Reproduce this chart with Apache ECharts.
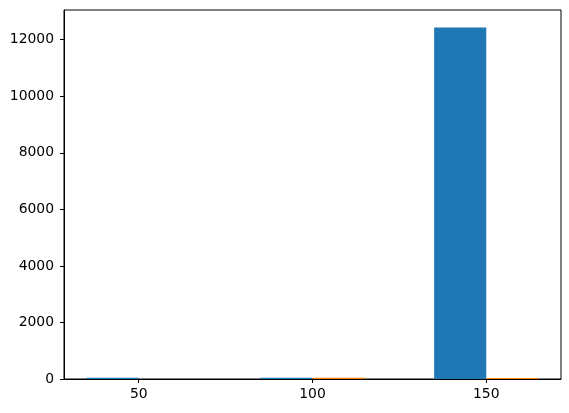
<!DOCTYPE html>
<html>
<head>
<meta charset="utf-8">
<script src="https://cdn.jsdelivr.net/npm/echarts@6/dist/echarts.min.js"></script>
<style>
  html, body { margin: 0; padding: 0; background: #fff; }
  #main { width: 569px; height: 413px; }
</style>
</head>
<body>
<div id="main"></div>
<script>
var groups = [50, 100, 150];
var blueValues = [40, 45, 12430];
var orangeValues = [0, 40, 35];
var xTicks = [50, 100, 150];
var yTicks = [0, 2000, 4000, 6000, 8000, 10000, 12000];

var BAR_SPAN = 15;

var chartDom = document.getElementById('main');
var myChart = echarts.init(chartDom);

// blue sits left of each group, orange right of it
var blueData = groups.map(function (g, i) {
  return [g - BAR_SPAN, g, blueValues[i]];
});
var orangeData = groups.map(function (g, i) {
  return [g, g + BAR_SPAN, orangeValues[i]];
});

function renderBar(params, api) {
  var p0 = api.coord([api.value(0), 0]);
  var p1 = api.coord([api.value(1), api.value(2)]);
  return {
    type: 'rect',
    shape: {
      x: p0[0],
      y: p1[1],
      width: p1[0] - p0[0],
      height: p0[1] - p1[1]
    },
    style: api.style()
  };
}

var axisText = {
  color: '#000',
  fontFamily: 'DejaVu Sans',
  fontSize: 13.9,
  formatter: function (v) { return String(v); }
};

var option = {
  animation: false,
  grid: {
    left: 64,
    right: 8,
    top: 10,
    bottom: 34,
    show: true,
    borderColor: '#000',
    borderWidth: 1
  },
  xAxis: {
    type: 'value',
    min: 28.5,
    max: 171.5,
    splitLine: { show: false },
    axisLine: { show: true, onZero: false, lineStyle: { color: '#000' } },
    axisTick: {
      show: true,
      length: 4,
      customValues: xTicks,
      lineStyle: { color: '#000' }
    },
    axisLabel: Object.assign({ customValues: xTicks, margin: 8 }, axisText)
  },
  yAxis: {
    type: 'value',
    min: 0,
    max: 13052,
    splitLine: { show: false },
    axisLine: { show: true, lineStyle: { color: '#000' } },
    axisTick: {
      show: true,
      length: 4,
      customValues: yTicks,
      lineStyle: { color: '#000' }
    },
    axisLabel: Object.assign({ customValues: yTicks, margin: 10 }, axisText)
  },
  series: [
    {
      type: 'custom',
      renderItem: renderBar,
      itemStyle: { color: '#1f77b4' },
      encode: { x: [0, 1], y: 2 },
      data: blueData
    },
    {
      type: 'custom',
      renderItem: renderBar,
      itemStyle: { color: '#ff7f0e' },
      encode: { x: [0, 1], y: 2 },
      data: orangeData
    }
  ]
};

myChart.setOption(option);
</script>
</body>
</html>
